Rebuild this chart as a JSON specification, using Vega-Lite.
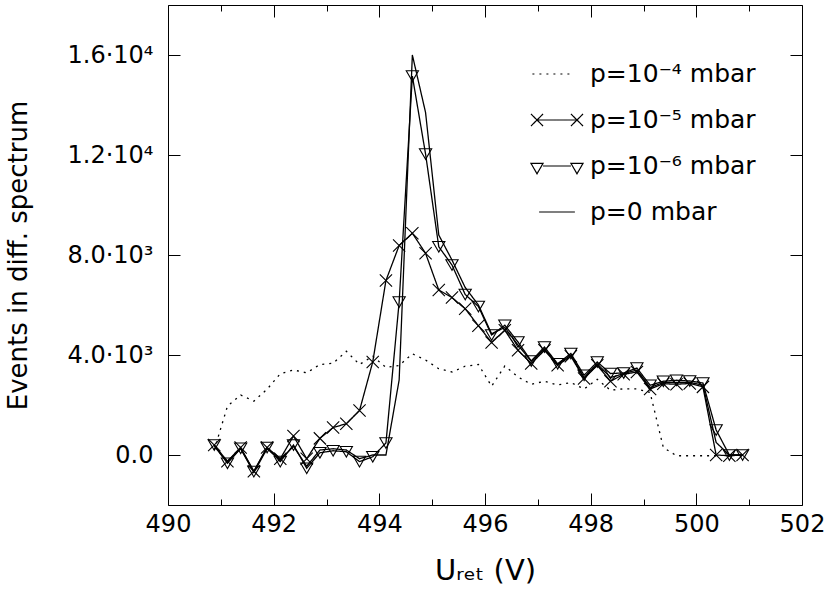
{
  "$schema": "https://vega.github.io/schema/vega-lite/v6.json",
  "autosize": {"type": "none"},
  "padding": {"left": 168, "top": 5, "right": 28, "bottom": 89},
  "width": 634,
  "height": 500,
  "data": {
    "values": [
      {"u": 490.875, "n": 200, "s": "p=10⁻⁴ mbar"},
      {"u": 491.125, "n": 1950, "s": "p=10⁻⁴ mbar"},
      {"u": 491.375, "n": 2400, "s": "p=10⁻⁴ mbar"},
      {"u": 491.625, "n": 2155, "s": "p=10⁻⁴ mbar"},
      {"u": 491.875, "n": 2630, "s": "p=10⁻⁴ mbar"},
      {"u": 492.125, "n": 3250, "s": "p=10⁻⁴ mbar"},
      {"u": 492.375, "n": 3400, "s": "p=10⁻⁴ mbar"},
      {"u": 492.625, "n": 3285, "s": "p=10⁻⁴ mbar"},
      {"u": 492.875, "n": 3620, "s": "p=10⁻⁴ mbar"},
      {"u": 493.125, "n": 3670, "s": "p=10⁻⁴ mbar"},
      {"u": 493.375, "n": 4150, "s": "p=10⁻⁴ mbar"},
      {"u": 493.625, "n": 3620, "s": "p=10⁻⁴ mbar"},
      {"u": 493.875, "n": 3950, "s": "p=10⁻⁴ mbar"},
      {"u": 494.125, "n": 3500, "s": "p=10⁻⁴ mbar"},
      {"u": 494.375, "n": 3580, "s": "p=10⁻⁴ mbar"},
      {"u": 494.625, "n": 4050, "s": "p=10⁻⁴ mbar"},
      {"u": 494.875, "n": 3800, "s": "p=10⁻⁴ mbar"},
      {"u": 495.125, "n": 3450, "s": "p=10⁻⁴ mbar"},
      {"u": 495.375, "n": 3320, "s": "p=10⁻⁴ mbar"},
      {"u": 495.625, "n": 3550, "s": "p=10⁻⁴ mbar"},
      {"u": 495.875, "n": 3620, "s": "p=10⁻⁴ mbar"},
      {"u": 496.125, "n": 2750, "s": "p=10⁻⁴ mbar"},
      {"u": 496.375, "n": 3560, "s": "p=10⁻⁴ mbar"},
      {"u": 496.625, "n": 3120, "s": "p=10⁻⁴ mbar"},
      {"u": 496.875, "n": 2830, "s": "p=10⁻⁴ mbar"},
      {"u": 497.125, "n": 2950, "s": "p=10⁻⁴ mbar"},
      {"u": 497.375, "n": 2800, "s": "p=10⁻⁴ mbar"},
      {"u": 497.625, "n": 2900, "s": "p=10⁻⁴ mbar"},
      {"u": 497.875, "n": 2640, "s": "p=10⁻⁴ mbar"},
      {"u": 498.125, "n": 3030, "s": "p=10⁻⁴ mbar"},
      {"u": 498.375, "n": 2590, "s": "p=10⁻⁴ mbar"},
      {"u": 498.625, "n": 2645, "s": "p=10⁻⁴ mbar"},
      {"u": 498.875, "n": 2645, "s": "p=10⁻⁴ mbar"},
      {"u": 499.125, "n": 2500, "s": "p=10⁻⁴ mbar"},
      {"u": 499.375, "n": 300, "s": "p=10⁻⁴ mbar"},
      {"u": 499.625, "n": -30, "s": "p=10⁻⁴ mbar"},
      {"u": 499.875, "n": -30, "s": "p=10⁻⁴ mbar"},
      {"u": 500.125, "n": -30, "s": "p=10⁻⁴ mbar"},
      {"u": 500.375, "n": -30, "s": "p=10⁻⁴ mbar"},

      {"u": 490.875, "n": 400, "s": "p=10⁻⁵ mbar"},
      {"u": 491.125, "n": -250, "s": "p=10⁻⁵ mbar"},
      {"u": 491.375, "n": 300, "s": "p=10⁻⁵ mbar"},
      {"u": 491.625, "n": -650, "s": "p=10⁻⁵ mbar"},
      {"u": 491.875, "n": 300, "s": "p=10⁻⁵ mbar"},
      {"u": 492.125, "n": -150, "s": "p=10⁻⁵ mbar"},
      {"u": 492.375, "n": 760, "s": "p=10⁻⁵ mbar"},
      {"u": 492.625, "n": -150, "s": "p=10⁻⁵ mbar"},
      {"u": 492.875, "n": 665, "s": "p=10⁻⁵ mbar"},
      {"u": 493.125, "n": 1100, "s": "p=10⁻⁵ mbar"},
      {"u": 493.375, "n": 1250, "s": "p=10⁻⁵ mbar"},
      {"u": 493.625, "n": 1780, "s": "p=10⁻⁵ mbar"},
      {"u": 493.875, "n": 3720, "s": "p=10⁻⁵ mbar"},
      {"u": 494.125, "n": 6980, "s": "p=10⁻⁵ mbar"},
      {"u": 494.375, "n": 8380, "s": "p=10⁻⁵ mbar"},
      {"u": 494.625, "n": 8870, "s": "p=10⁻⁵ mbar"},
      {"u": 494.875, "n": 8070, "s": "p=10⁻⁵ mbar"},
      {"u": 495.125, "n": 6600, "s": "p=10⁻⁵ mbar"},
      {"u": 495.375, "n": 6300, "s": "p=10⁻⁵ mbar"},
      {"u": 495.625, "n": 5850, "s": "p=10⁻⁵ mbar"},
      {"u": 495.875, "n": 5170, "s": "p=10⁻⁵ mbar"},
      {"u": 496.125, "n": 4500, "s": "p=10⁻⁵ mbar"},
      {"u": 496.375, "n": 4990, "s": "p=10⁻⁵ mbar"},
      {"u": 496.625, "n": 4190, "s": "p=10⁻⁵ mbar"},
      {"u": 496.875, "n": 3660, "s": "p=10⁻⁵ mbar"},
      {"u": 497.125, "n": 4190, "s": "p=10⁻⁵ mbar"},
      {"u": 497.375, "n": 3590, "s": "p=10⁻⁵ mbar"},
      {"u": 497.625, "n": 3950, "s": "p=10⁻⁵ mbar"},
      {"u": 497.875, "n": 3060, "s": "p=10⁻⁵ mbar"},
      {"u": 498.125, "n": 3590, "s": "p=10⁻⁵ mbar"},
      {"u": 498.375, "n": 2950, "s": "p=10⁻⁵ mbar"},
      {"u": 498.625, "n": 3230, "s": "p=10⁻⁵ mbar"},
      {"u": 498.875, "n": 3320, "s": "p=10⁻⁵ mbar"},
      {"u": 499.125, "n": 2640, "s": "p=10⁻⁵ mbar"},
      {"u": 499.375, "n": 2850, "s": "p=10⁻⁵ mbar"},
      {"u": 499.625, "n": 2830, "s": "p=10⁻⁵ mbar"},
      {"u": 499.875, "n": 2860, "s": "p=10⁻⁵ mbar"},
      {"u": 500.125, "n": 2725, "s": "p=10⁻⁵ mbar"},
      {"u": 500.375, "n": 0, "s": "p=10⁻⁵ mbar"},
      {"u": 500.625, "n": -30, "s": "p=10⁻⁵ mbar"},
      {"u": 500.875, "n": 0, "s": "p=10⁻⁵ mbar"},

      {"u": 490.875, "n": 400, "s": "p=10⁻⁶ mbar"},
      {"u": 491.125, "n": -330, "s": "p=10⁻⁶ mbar"},
      {"u": 491.375, "n": 270, "s": "p=10⁻⁶ mbar"},
      {"u": 491.625, "n": -665, "s": "p=10⁻⁶ mbar"},
      {"u": 491.875, "n": 300, "s": "p=10⁻⁶ mbar"},
      {"u": 492.125, "n": -265, "s": "p=10⁻⁶ mbar"},
      {"u": 492.375, "n": 400, "s": "p=10⁻⁶ mbar"},
      {"u": 492.625, "n": -530, "s": "p=10⁻⁶ mbar"},
      {"u": 492.875, "n": 90, "s": "p=10⁻⁶ mbar"},
      {"u": 493.125, "n": 170, "s": "p=10⁻⁶ mbar"},
      {"u": 493.375, "n": 130, "s": "p=10⁻⁶ mbar"},
      {"u": 493.625, "n": -265, "s": "p=10⁻⁶ mbar"},
      {"u": 493.875, "n": -70, "s": "p=10⁻⁶ mbar"},
      {"u": 494.125, "n": 480, "s": "p=10⁻⁶ mbar"},
      {"u": 494.375, "n": 6120, "s": "p=10⁻⁶ mbar"},
      {"u": 494.625, "n": 15160, "s": "p=10⁻⁶ mbar"},
      {"u": 494.875, "n": 12040, "s": "p=10⁻⁶ mbar"},
      {"u": 495.125, "n": 8330, "s": "p=10⁻⁶ mbar"},
      {"u": 495.375, "n": 7600, "s": "p=10⁻⁶ mbar"},
      {"u": 495.625, "n": 6420, "s": "p=10⁻⁶ mbar"},
      {"u": 495.875, "n": 5940, "s": "p=10⁻⁶ mbar"},
      {"u": 496.125, "n": 4800, "s": "p=10⁻⁶ mbar"},
      {"u": 496.375, "n": 5190, "s": "p=10⁻⁶ mbar"},
      {"u": 496.625, "n": 4520, "s": "p=10⁻⁶ mbar"},
      {"u": 496.875, "n": 3760, "s": "p=10⁻⁶ mbar"},
      {"u": 497.125, "n": 4320, "s": "p=10⁻⁶ mbar"},
      {"u": 497.375, "n": 3650, "s": "p=10⁻⁶ mbar"},
      {"u": 497.625, "n": 4060, "s": "p=10⁻⁶ mbar"},
      {"u": 497.875, "n": 3190, "s": "p=10⁻⁶ mbar"},
      {"u": 498.125, "n": 3720, "s": "p=10⁻⁶ mbar"},
      {"u": 498.375, "n": 3260, "s": "p=10⁻⁶ mbar"},
      {"u": 498.625, "n": 3280, "s": "p=10⁻⁶ mbar"},
      {"u": 498.875, "n": 3480, "s": "p=10⁻⁶ mbar"},
      {"u": 499.125, "n": 2790, "s": "p=10⁻⁶ mbar"},
      {"u": 499.375, "n": 2950, "s": "p=10⁻⁶ mbar"},
      {"u": 499.625, "n": 2990, "s": "p=10⁻⁶ mbar"},
      {"u": 499.875, "n": 2960, "s": "p=10⁻⁶ mbar"},
      {"u": 500.125, "n": 2880, "s": "p=10⁻⁶ mbar"},
      {"u": 500.375, "n": 1000, "s": "p=10⁻⁶ mbar"},
      {"u": 500.625, "n": 0, "s": "p=10⁻⁶ mbar"},
      {"u": 500.875, "n": 0, "s": "p=10⁻⁶ mbar"},

      {"u": 490.875, "n": 350, "s": "p=0 mbar"},
      {"u": 491.125, "n": -300, "s": "p=0 mbar"},
      {"u": 491.375, "n": 250, "s": "p=0 mbar"},
      {"u": 491.625, "n": -700, "s": "p=0 mbar"},
      {"u": 491.875, "n": 250, "s": "p=0 mbar"},
      {"u": 492.125, "n": -200, "s": "p=0 mbar"},
      {"u": 492.375, "n": 350, "s": "p=0 mbar"},
      {"u": 492.625, "n": -450, "s": "p=0 mbar"},
      {"u": 492.875, "n": 200, "s": "p=0 mbar"},
      {"u": 493.125, "n": 250, "s": "p=0 mbar"},
      {"u": 493.375, "n": 200, "s": "p=0 mbar"},
      {"u": 493.625, "n": -150, "s": "p=0 mbar"},
      {"u": 493.875, "n": 0, "s": "p=0 mbar"},
      {"u": 494.125, "n": 0, "s": "p=0 mbar"},
      {"u": 494.375, "n": 3000, "s": "p=0 mbar"},
      {"u": 494.625, "n": 16000, "s": "p=0 mbar"},
      {"u": 494.875, "n": 13700, "s": "p=0 mbar"},
      {"u": 495.125, "n": 8800, "s": "p=0 mbar"},
      {"u": 495.375, "n": 7800, "s": "p=0 mbar"},
      {"u": 495.625, "n": 6700, "s": "p=0 mbar"},
      {"u": 495.875, "n": 6000, "s": "p=0 mbar"},
      {"u": 496.125, "n": 4850, "s": "p=0 mbar"},
      {"u": 496.375, "n": 5100, "s": "p=0 mbar"},
      {"u": 496.625, "n": 4400, "s": "p=0 mbar"},
      {"u": 496.875, "n": 3750, "s": "p=0 mbar"},
      {"u": 497.125, "n": 4250, "s": "p=0 mbar"},
      {"u": 497.375, "n": 3620, "s": "p=0 mbar"},
      {"u": 497.625, "n": 4000, "s": "p=0 mbar"},
      {"u": 497.875, "n": 3100, "s": "p=0 mbar"},
      {"u": 498.125, "n": 3650, "s": "p=0 mbar"},
      {"u": 498.375, "n": 3100, "s": "p=0 mbar"},
      {"u": 498.625, "n": 3250, "s": "p=0 mbar"},
      {"u": 498.875, "n": 3400, "s": "p=0 mbar"},
      {"u": 499.125, "n": 2700, "s": "p=0 mbar"},
      {"u": 499.375, "n": 2900, "s": "p=0 mbar"},
      {"u": 499.625, "n": 2900, "s": "p=0 mbar"},
      {"u": 499.875, "n": 2900, "s": "p=0 mbar"},
      {"u": 500.125, "n": 2800, "s": "p=0 mbar"},
      {"u": 500.375, "n": 500, "s": "p=0 mbar"},
      {"u": 500.625, "n": 0, "s": "p=0 mbar"},
      {"u": 500.875, "n": 0, "s": "p=0 mbar"}
    ]
  },
  "layer": [
    {
      "mark": {"type": "line", "color": "black", "strokeWidth": 1.3},
      "encoding": {
        "x": {
          "field": "u", "type": "quantitative",
          "scale": {"domain": [490, 502], "nice": false, "zero": false},
          "axis": {
            "orient": "bottom",
            "values": [490, 492, 494, 496, 498, 500, 502],
            "tickSize": 12,
            "offset": -12,
            "labelPadding": 7,
            "labelFlush": false,
            "labelOverlap": false,
            "title": "Uᵣₑₜ (V)",
            "titleFontSize": 29,
            "titlePadding": 20
          }
        },
        "y": {
          "field": "n", "type": "quantitative",
          "scale": {"domain": [-2000, 18000], "nice": false, "zero": false},
          "axis": {
            "orient": "left",
            "values": [0, 4000, 8000, 12000, 16000],
            "tickSize": 12,
            "offset": -12,
            "labelPadding": 15,
            "labelExpr": "datum.value == 0 ? '0.0' : datum.value < 10000 ? format(datum.value / 1000, '.1f') + '·10³' : format(datum.value / 10000, '.1f') + '·10⁴'",
            "title": "Events in diff. spectrum",
            "titlePadding": 36
          }
        },
        "strokeDash": {
          "field": "s", "type": "nominal",
          "scale": {
            "domain": ["p=10⁻⁴ mbar", "p=10⁻⁵ mbar", "p=10⁻⁶ mbar", "p=0 mbar"],
            "range": [[2, 5], [1, 0], [1, 0], [1, 0]]
          },
          "legend": {
            "orient": "none",
            "legendX": 366,
            "legendY": 46,
            "title": null,
            "padding": 0,
            "symbolSize": 2000,
            "symbolStrokeWidth": 1.2,
            "symbolStrokeColor": "black",
            "labelFontSize": 25,
            "labelLimit": 0,
            "labelOffset": 10,
            "rowPadding": 10,
            "encode": {
              "symbols": {
                "update": {
                  "fill": {"value": "transparent"},
                  "stroke": {"value": "black"},
                  "shape": {"signal": "datum.value === 'p=10⁻⁵ mbar' ? 'M-0.894,0L0.894,0M-1.164,-0.27L-0.624,0.27M-1.164,0.27L-0.624,-0.27M0.624,-0.27L1.164,0.27M0.624,0.27L1.164,-0.27' : datum.value === 'p=10⁻⁶ mbar' ? 'M-0.624,0L0.624,0M-1.164,-0.12L-0.624,-0.12L-0.894,0.35ZM0.624,-0.12L1.164,-0.12L0.894,0.35Z' : datum.value === 'p=0 mbar' ? 'M-0.8,0L0.8,0' : 'M-1.1,0L0.6,0'"}
                }
              }
            }
          }
        }
      }
    },
    {
      "transform": [{"filter": {"field": "s", "oneOf": ["p=10⁻⁵ mbar", "p=10⁻⁶ mbar"]}}],
      "mark": {"type": "point", "filled": false, "stroke": "black", "strokeWidth": 1.1, "opacity": 1, "size": 150},
      "encoding": {
        "x": {
          "field": "u", "type": "quantitative",
          "axis": {
            "orient": "top",
            "values": [490, 492, 494, 496, 498, 500, 502],
            "tickSize": 12,
            "offset": -12,
            "labels": false,
            "title": null
          }
        },
        "y": {
          "field": "n", "type": "quantitative",
          "axis": {
            "orient": "right",
            "values": [0, 4000, 8000, 12000, 16000],
            "tickSize": 12,
            "offset": -12,
            "labels": false,
            "title": null
          }
        },
        "shape": {
          "field": "s", "type": "nominal",
          "scale": {"domain": ["p=10⁻⁵ mbar", "p=10⁻⁶ mbar"], "range": ["M-1,-1L1,1M-1,1L1,-1", "triangle-down"]},
          "legend": null
        }
      }
    },
    {
      "transform": [{"filter": "false"}],
      "mark": {"type": "point"},
      "encoding": {
        "x": {
          "field": "u", "type": "quantitative",
          "axis": {
            "orient": "bottom",
            "values": [491, 493, 495, 497, 499, 501],
            "tickSize": 6,
            "offset": -6,
            "labels": false,
            "title": null
          }
        },
        "y": {"field": "n", "type": "quantitative", "axis": null}
      }
    },
    {
      "transform": [{"filter": "false"}],
      "mark": {"type": "point"},
      "encoding": {
        "x": {
          "field": "u", "type": "quantitative",
          "axis": {
            "orient": "top",
            "values": [491, 493, 495, 497, 499, 501],
            "tickSize": 6,
            "offset": -6,
            "labels": false,
            "title": null
          }
        },
        "y": {"field": "n", "type": "quantitative", "axis": null}
      }
    }
  ],
  "resolve": {"axis": {"x": "independent", "y": "independent"}},
  "config": {
    "font": "DejaVu Sans",
    "view": {"stroke": "black", "strokeWidth": 1},
    "axis": {
      "grid": false,
      "domain": false,
      "zindex": 2,
      "tickColor": "black",
      "labelColor": "black",
      "labelFontSize": 24,
      "titleColor": "black",
      "titleFontSize": 26,
      "titleFontWeight": "normal"
    },
    "legend": {
      "labelColor": "black"
    }
  }
}
